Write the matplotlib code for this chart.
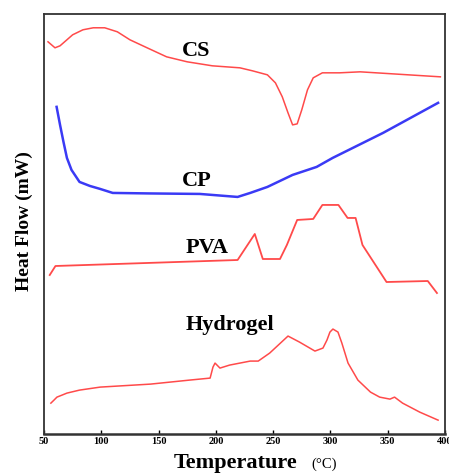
import matplotlib.pyplot as plt

# DSC curves (temperature in °C, heat flow in arbitrary offset units)
cs_t = [53.5, 59.6, 64, 75, 84, 93, 103, 114, 125, 140, 157, 175, 197, 221, 232, 245, 252, 258,
        263, 267, 271, 275, 280, 285, 293, 308, 326, 396]
cs_y = [392, 386, 388, 399, 404, 406, 406, 402, 394, 386, 377, 372, 368, 366, 363, 359, 351, 337,
        321, 309, 310, 324, 344, 356, 361, 361, 362, 357]

cp_t = [61, 64, 67, 70, 74, 81, 90, 99, 110, 142, 186, 219, 230, 245, 267, 288, 302, 346, 394]
cp_y = [327, 309, 292, 276, 264, 252, 248, 245, 241, 240.5, 240, 237, 241, 247, 259, 267, 276, 301, 331]

pva_t = [55, 60, 219, 234, 241, 256, 262, 271, 285, 293, 307, 315, 322, 328, 349, 385, 393]
pva_y = [159, 168, 174, 200, 175, 175, 189, 214, 215, 229, 229, 216, 216, 189, 152, 153, 141]

gel_t = [56, 58.7, 61.3, 65.7, 70, 81, 99, 143, 177, 195, 197.5, 199.3, 203.6, 212, 230, 237, 247,
         263, 273, 286.5, 293.5, 297, 299.6, 302.2, 306.6, 310, 315.4, 324, 335, 343, 352, 356,
         363, 378, 394]
gel_y = [31, 34, 37, 39, 41, 44, 47, 50, 54, 56, 67, 71, 66, 69, 73, 73, 81,
         98, 92, 83, 86, 94, 102, 105, 102, 91, 71, 54, 42, 37, 35, 37,
         31, 22, 14]

labels = ["CS", "CP", "PVA", "Hydrogel"]
label_pos = [(183, 383), (183, 253), (192, 186), (212, 109)]
xticks = [50, 100, 150, 200, 250, 300, 350, 400]

red = "#ff4a4a"
blue = "#3a3af5"
serif = "Liberation Serif"

fig = plt.figure(figsize=(4.49, 4.75), dpi=100)
ax = fig.add_axes([0.098, 0.086, 0.893, 0.885])

ax.plot(cs_t, cs_y, color=red, lw=1.1)
ax.plot(cp_t, cp_y, color=blue, lw=1.8)
ax.plot(pva_t, pva_y, color=red, lw=1.3)
ax.plot(gel_t, gel_y, color=red, lw=1.1)

for name, (x, y) in zip(labels, label_pos):
    ax.text(x, y, name, family=serif, weight="bold", fontsize=16, ha="center", va="center")

ax.set_xlim(50, 400)
ax.set_ylim(0, 420)
ax.set_yticks([])
ax.set_xticks(xticks)
ax.set_xticklabels([str(t) for t in xticks], family=serif, weight="bold", fontsize=7.5)
ax.tick_params(axis="x", direction="in", length=3, width=1, pad=2)
for s in ax.spines.values():
    s.set_color("#333333")
    s.set_linewidth(1.3)
ax.spines["bottom"].set_linewidth(1.8)

fig.text(0.525, 0.025, "Temperature", family=serif, weight="bold", fontsize=16, ha="center", va="center")
fig.text(0.722, 0.022, "(°C)", family=serif, fontsize=10.5, ha="center", va="center")
fig.text(0.055, 0.535, "Heat Flow (mW)", family=serif, weight="bold", fontsize=14,
         rotation=90, ha="center", va="center")

fig.savefig("out.png", dpi=100)
